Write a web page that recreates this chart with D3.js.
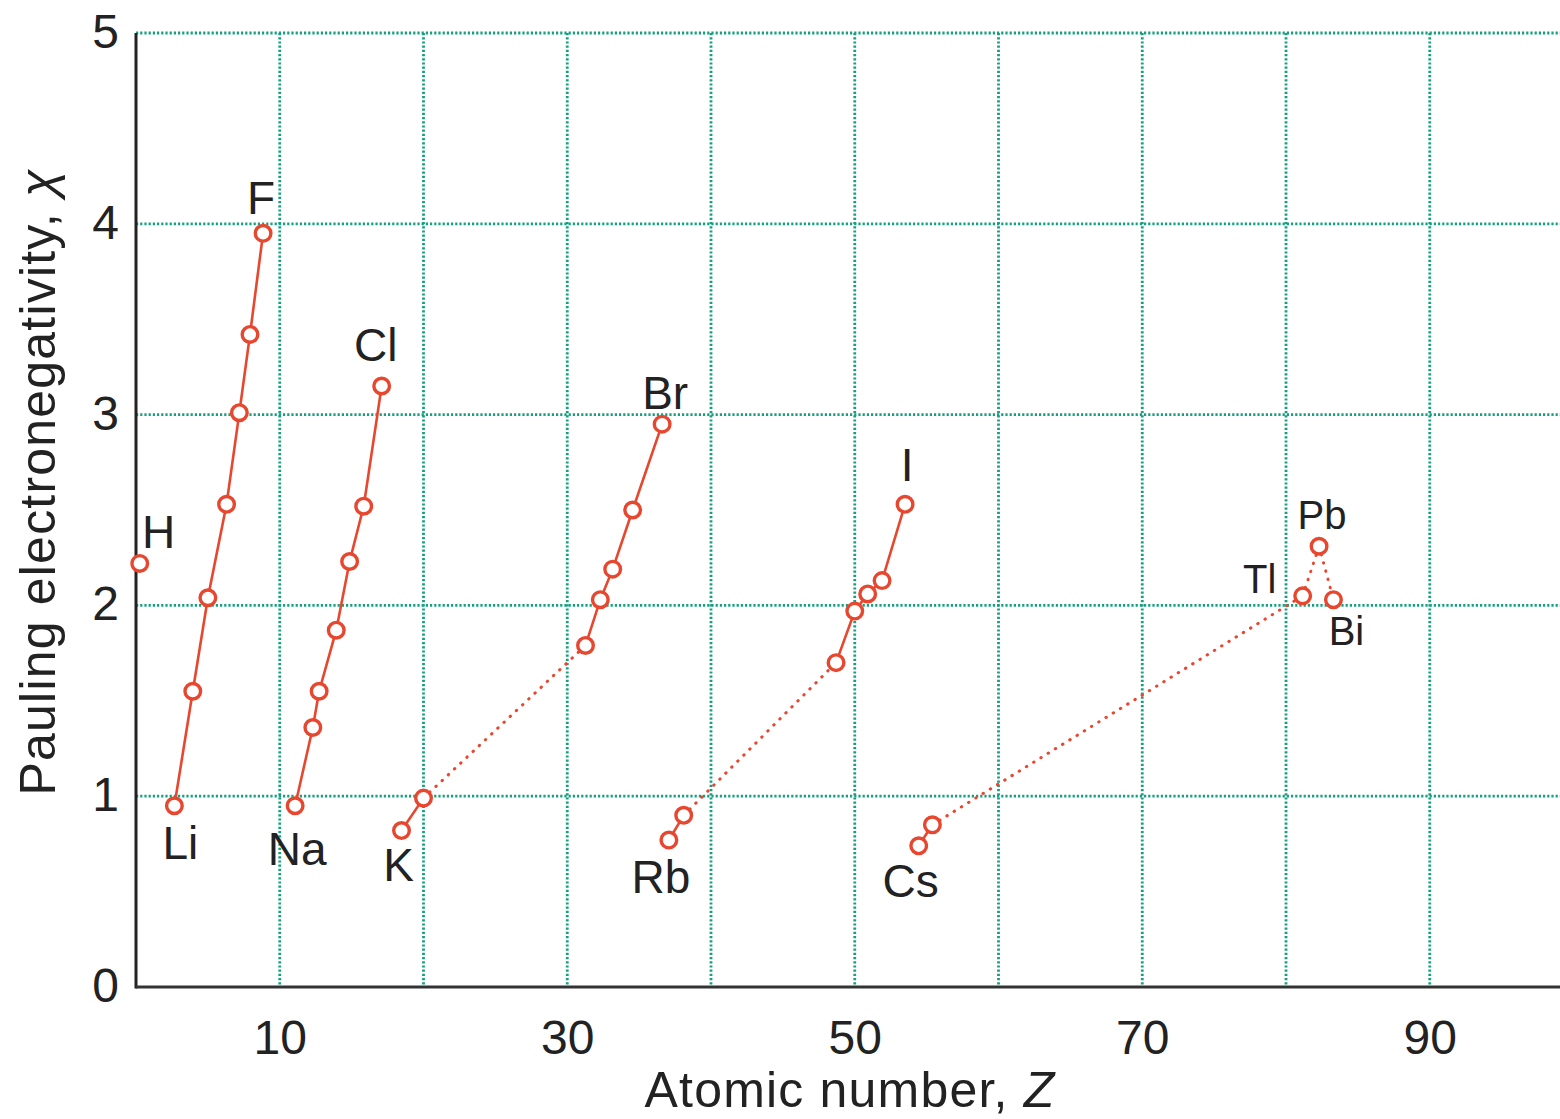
<!DOCTYPE html>
<html>
<head>
<meta charset="utf-8">
<script src="https://cdn.jsdelivr.net/npm/d3@7"></script>
<style>
  body { margin: 0; background: #fff; }
  text { font-family: "Liberation Sans", Arial, sans-serif; fill: #222; }
</style>
</head>
<body>
<div id="chart"></div>
<script>
// values (Z, Pauling electronegativity)
var hZ = [0.26], hChi = [2.22];
var p2Z = [2.67, 3.95, 5.0, 6.3, 7.19, 7.93, 8.84];
var p2Chi = [0.95, 1.55, 2.04, 2.53, 3.01, 3.42, 3.95];
var p3Z = [11.07, 12.3, 12.74, 13.93, 14.86, 15.84, 17.09];
var p3Chi = [0.95, 1.36, 1.55, 1.87, 2.23, 2.52, 3.15];
var p4sZ = [18.47, 20.0], p4sChi = [0.82, 0.99];
var p4pZ = [31.27, 32.3, 33.16, 34.55, 36.6];
var p4pChi = [1.79, 2.03, 2.19, 2.50, 2.95];
var p5sZ = [37.07, 38.1], p5sChi = [0.77, 0.90];
var p5pZ = [48.7, 50.0, 50.9, 51.9, 53.5];
var p5pChi = [1.70, 1.97, 2.06, 2.13, 2.53];
var p6sZ = [54.45, 55.4], p6sChi = [0.74, 0.85];
var p6pZ = [81.16, 82.3, 83.3], p6pChi = [2.05, 2.31, 2.03];

var xTicks = [10, 30, 50, 70, 90];
var xGrid = [10, 20, 30, 40, 50, 60, 70, 80, 90];
var yTicks = [0, 1, 2, 3, 4, 5];
var yGrid = [1, 2, 3, 4, 5];

var W = 1560, H = 1119;
var plotLeft = 136, plotTop = 33, plotBottom = 987;

var red = "#e8472f";
var gridColor = "#15a07f";

var svg = d3.select("#chart").append("svg")
  .attr("width", W)
  .attr("height", H);

var x = d3.scaleLinear().domain([0, 99.06]).range([plotLeft, W]);
var y = d3.scaleLinear().domain([0, 5]).range([plotBottom, plotTop]);

function pts(zs, chis) {
  return zs.map(function(z, i) { return [z, chis[i]]; });
}

var groups = {
  h: pts(hZ, hChi),
  p2: pts(p2Z, p2Chi),
  p3: pts(p3Z, p3Chi),
  p4s: pts(p4sZ, p4sChi),
  p4p: pts(p4pZ, p4pChi),
  p5s: pts(p5sZ, p5sChi),
  p5p: pts(p5pZ, p5pChi),
  p6s: pts(p6sZ, p6sChi),
  p6p: pts(p6pZ, p6pChi)
};

// grid
svg.append("g")
  .selectAll("line")
  .data(xGrid)
  .enter().append("line")
  .attr("x1", d => x(d)).attr("x2", d => x(d))
  .attr("y1", plotTop).attr("y2", plotBottom)
  .attr("stroke", gridColor)
  .attr("stroke-width", 2.8)
  .attr("stroke-dasharray", "2.2,2");

svg.append("g")
  .selectAll("line")
  .data(yGrid)
  .enter().append("line")
  .attr("x1", plotLeft).attr("x2", W)
  .attr("y1", d => y(d)).attr("y2", d => y(d))
  .attr("stroke", gridColor)
  .attr("stroke-width", 2.8)
  .attr("stroke-dasharray", "2.2,2");

// axes
var xAxis = svg.append("g")
  .attr("transform", "translate(0," + plotBottom + ")")
  .call(d3.axisBottom(x).tickValues(xTicks).tickSize(0).tickPadding(33));
xAxis.select(".domain").remove();
xAxis.selectAll("text").attr("font-size", 48).attr("fill", "#222")
  .style("font-family", "'Liberation Sans', Arial, sans-serif");

var yAxis = svg.append("g")
  .attr("transform", "translate(" + plotLeft + ",0)")
  .call(d3.axisLeft(y).tickValues(yTicks).tickFormat(d3.format("d"))
    .tickSize(0).tickPadding(17));
yAxis.select(".domain").remove();
yAxis.selectAll("text").attr("font-size", 48).attr("fill", "#222").attr("dy", "0.3em")
  .style("font-family", "'Liberation Sans', Arial, sans-serif");

svg.append("line")
  .attr("x1", plotLeft).attr("x2", plotLeft)
  .attr("y1", plotTop).attr("y2", plotBottom + 1.5)
  .attr("stroke", "#222").attr("stroke-width", 3);
svg.append("line")
  .attr("x1", plotLeft).attr("x2", W)
  .attr("y1", plotBottom).attr("y2", plotBottom)
  .attr("stroke", "#333").attr("stroke-width", 3);

// titles
var xt = svg.append("text")
  .attr("x", 850).attr("y", 1107)
  .attr("text-anchor", "middle")
  .attr("font-size", 50)
  .attr("letter-spacing", 1.2);
xt.append("tspan").text("Atomic number, ");
xt.append("tspan").attr("font-style", "italic").text("Z");

var yt = svg.append("text")
  .attr("transform", "translate(55,482) rotate(-90)")
  .attr("text-anchor", "middle")
  .attr("font-size", 50)
  .attr("letter-spacing", 1.2);
yt.append("tspan").text("Pauling electronegativity, ");
yt.append("tspan").attr("font-style", "italic").text("χ");

// lines
var line = d3.line().x(d => x(d[0])).y(d => y(d[1]));

var solid = [groups.p2, groups.p3, groups.p4s, groups.p4p, groups.p5s, groups.p5p, groups.p6s];
svg.append("g").selectAll("path")
  .data(solid)
  .enter().append("path")
  .attr("d", line)
  .attr("fill", "none")
  .attr("stroke", red)
  .attr("stroke-width", 2.6);

var dotted = [
  [groups.p4s[1], groups.p4p[0]],
  [groups.p5s[1], groups.p5p[0]],
  [groups.p6s[1], groups.p6p[0]],
  [groups.p6p[0], groups.p6p[1]],
  [groups.p6p[1], groups.p6p[2]]
];
svg.append("g").selectAll("path")
  .data(dotted)
  .enter().append("path")
  .attr("d", line)
  .attr("fill", "none")
  .attr("stroke", red)
  .attr("stroke-width", 3)
  .attr("stroke-linecap", "round")
  .attr("stroke-dasharray", "0.5,8");

// points
var allPts = [].concat(groups.h, groups.p2, groups.p3, groups.p4s, groups.p4p,
  groups.p5s, groups.p5p, groups.p6s, groups.p6p);
svg.append("g").selectAll("circle")
  .data(allPts)
  .enter().append("circle")
  .attr("cx", d => x(d[0]))
  .attr("cy", d => y(d[1]))
  .attr("r", 7.8)
  .attr("fill", "#fff")
  .attr("stroke", red)
  .attr("stroke-width", 3.4);

// element labels: anchor point + pixel offset
var labels = [
  {t: "H",  p: groups.h[0],   dx: 19,  dy: -32, s: 46},
  {t: "Li", p: groups.p2[0],  dx: 6,   dy: 37,  s: 46},
  {t: "F",  p: groups.p2[6],  dx: -2,  dy: -36, s: 46},
  {t: "Na", p: groups.p3[0],  dx: 2,   dy: 43,  s: 46},
  {t: "Cl", p: groups.p3[6],  dx: -6,  dy: -42, s: 46},
  {t: "K",  p: groups.p4s[0], dx: -3,  dy: 34,  s: 46},
  {t: "Br", p: groups.p4p[4], dx: 3,   dy: -32, s: 46},
  {t: "Rb", p: groups.p5s[0], dx: -8,  dy: 36,  s: 46},
  {t: "I",  p: groups.p5p[4], dx: 2,   dy: -40, s: 46},
  {t: "Cs", p: groups.p6s[0], dx: -8,  dy: 35,  s: 46},
  {t: "Tl", p: groups.p6p[0], dx: -43, dy: -17, s: 40},
  {t: "Pb", p: groups.p6p[1], dx: 3,   dy: -32, s: 40},
  {t: "Bi", p: groups.p6p[2], dx: 13,  dy: 31,  s: 40}
];
svg.append("g").selectAll("text")
  .data(labels)
  .enter().append("text")
  .attr("x", d => x(d.p[0]) + d.dx)
  .attr("y", d => y(d.p[1]) + d.dy)
  .attr("dy", "0.36em")
  .attr("text-anchor", "middle")
  .attr("font-size", d => d.s)
  .text(d => d.t);
</script>
</body>
</html>
